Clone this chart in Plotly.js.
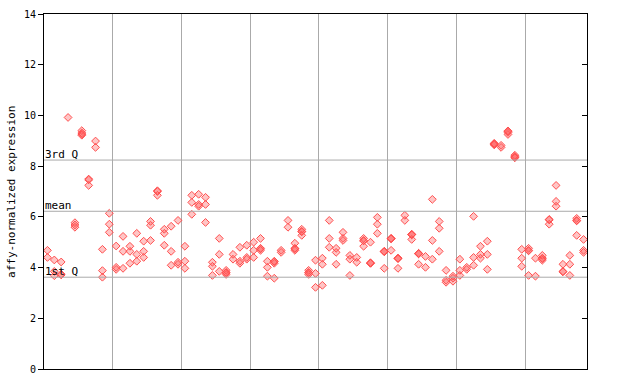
<!DOCTYPE html>
<html>
<head>
<meta charset="utf-8">
<script src="https://cdn.plot.ly/plotly-3.0.1.min.js"></script>
<style>html,body{margin:0;padding:0;background:#fff;}#chart{width:640px;height:384px;}</style>
</head>
<body>
<div id="chart"></div>
<script>
// replicate values per sample (sample index = position in the array)
const rep1 = [4.68,4.30,4.22,9.92,5.77,9.40,7.49,8.99,4.72,6.14,4.85,5.23,4.84,5.35,5.04,5.82,7.03,5.51,5.63,5.86,4.84,6.85,6.89,6.77,4.21,5.15,3.89,4.52,4.80,4.88,5.00,5.15,4.25,4.25,4.68,5.86,4.96,5.51,3.89,4.29,4.37,5.86,4.76,5.39,4.48,4.40,5.15,5.00,5.98,4.64,5.15,4.37,6.06,5.31,4.56,4.44,6.69,5.82,3.89,3.66,4.33,4.01,6.02,4.84,5.04,8.86,8.82,9.37,8.43,4.72,4.76,4.37,4.48,5.90,7.24,4.13,4.48,5.94,5.11];
const rep2 = [4.40,3.85,3.71,null,5.68,9.31,7.24,8.74,3.88,5.71,4.01,4.64,4.64,4.52,4.64,5.67,6.85,5.35,4.64,4.21,4.25,6.57,6.49,6.49,4.05,4.52,3.81,4.33,4.25,4.40,4.68,4.76,4.01,4.17,4.60,5.59,4.76,5.43,3.81,3.77,4.13,5.15,4.60,5.15,4.33,4.21,5.07,4.17,5.71,3.97,4.68,3.97,5.86,5.11,4.13,4.01,5.07,5.55,3.50,3.58,3.89,3.93,4.40,4.52,4.52,8.90,8.74,9.25,8.35,4.37,4.68,3.66,4.37,5.71,6.61,3.85,4.13,5.86,4.68];
const rep3 = [null,3.68,3.74,null,5.59,9.22,7.46,null,3.62,5.39,3.93,3.97,4.17,4.25,4.40,5.07,7.00,4.88,4.09,4.13,3.97,6.10,6.42,5.78,3.69,3.85,3.73,null,4.17,4.33,4.40,4.68,3.66,3.58,null,null,4.68,5.27,3.73,3.22,3.30,4.80,4.13,5.07,3.69,null,4.84,4.17,5.35,4.64,5.15,4.37,null,5.31,4.56,null,4.33,4.64,3.42,3.46,3.69,null,4.09,4.37,3.93,8.84,null,9.33,8.38,4.05,3.69,null,4.29,null,6.42,null,3.69,5.27,4.60];
const rep4 = [null,null,null,null,null,9.26,null,null,null,null,null,null,null,null,null,null,null,null,null,null,null,null,null,null,null,null,3.79,null,null,null,null,4.74,null,4.23,null,null,4.74,5.41,3.79,null,null,null,null,null,null,null,5.05,4.19,null,4.62,5.13,4.35,null,5.29,4.54,null,null,null,null,null,null,null,null,null,null,8.88,null,9.39,8.33,null,4.66,null,4.35,5.88,null,3.83,null,5.84,null];
const groupBounds = [9.5,19.5,29.5,39.5,49.5,59.5,69.5];
const yTicks = [0,2,4,6,8,10,12,14];
const refLines = [{label:"3rd Q", value:8.24},{label:"mean", value:6.22},{label:"1st Q", value:3.62}];

const xs = [], ys = [];
[rep1,rep2,rep3,rep4].forEach(rep => rep.forEach((v,i) => { if (v !== null) { xs.push(i); ys.push(v); } }));

const mono = "DejaVu Sans Mono, monospace";
const traces = [
  {x: xs, y: ys, type: 'scatter', mode: 'markers',
   marker: {symbol: 'diamond', size: 6, color: 'rgba(255,90,90,0.35)', line: {color: '#ff4f4f', width: 1}},
   hoverinfo: 'y'},
  {x: [0], y: [0], yaxis: 'y2', type: 'scatter', mode: 'markers', marker: {opacity: 0}, hoverinfo: 'skip'}
];

const shapes = refLines.map(r => ({type:'line', xref:'paper', x0:0, x1:1, yref:'y', y0:r.value, y1:r.value, line:{color:'#aaaaaa', width:1}}));
const annotations = refLines.map(r => ({xref:'paper', x:0, xanchor:'left', yref:'y', y:r.value, yanchor:'bottom', text:r.label, showarrow:false, font:{family:mono, size:11, color:'#000'}, yshift:-3, xshift:-1}));
annotations.push({xref:'paper', x:-0.06, xanchor:'center', yref:'paper', y:0.5, yanchor:'middle', text:'affy-normalized expression', textangle:-90, showarrow:false, font:{family:mono, size:11, color:'#000'}});

const layout = {
  width: 640, height: 384,
  margin: {l: 44, r: 53, t: 14, b: 15},
  paper_bgcolor: '#fff', plot_bgcolor: '#fff',
  showlegend: false,
  xaxis: {range: [-0.5, 78.5], tickmode: 'array', tickvals: groupBounds, showticklabels: false, ticks: '',
          showgrid: true, gridcolor: '#aaaaaa', gridwidth: 1, zeroline: false,
          showline: true, linecolor: '#000', linewidth: 1, mirror: true},
  yaxis: {range: [0, 14], tickmode: 'array', tickvals: yTicks, ticks: 'outside', ticklen: 5, tickcolor: '#000',
          showgrid: false, zeroline: false, showline: true, linecolor: '#000', linewidth: 1, mirror: true,
          tickfont: {family: mono, size: 10, color: '#000'}},
  yaxis2: {range: [0, 14], overlaying: 'y', side: 'right', anchor: 'x', tickmode: 'array', tickvals: yTicks,
           ticks: 'inside', ticklen: 5, tickcolor: '#000', showticklabels: false, showgrid: false, zeroline: false, showline: false},
  shapes: shapes,
  annotations: annotations
};
Plotly.newPlot('chart', traces, layout, {staticPlot: true});
</script>
</body>
</html>
